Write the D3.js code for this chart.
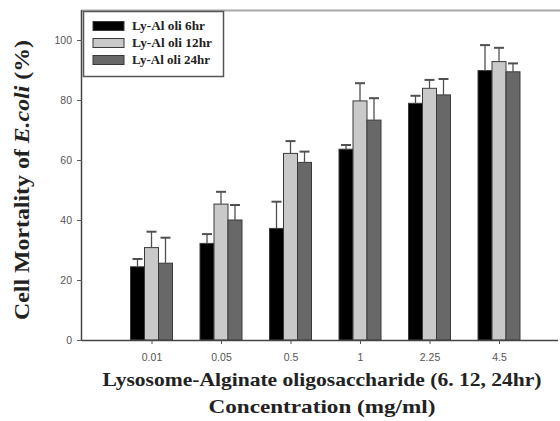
<!DOCTYPE html>
<html>
<head>
<meta charset="utf-8">
<script src="https://cdn.jsdelivr.net/npm/d3@7"></script>
<style>
  html, body { margin: 0; padding: 0; background: #fff; }
  svg { display: block; }
</style>
</head>
<body>
<svg id="chart" width="560" height="421"></svg>
<script>
// Concentrations (mg/ml) on the x axis
const categories = ["0.01", "0.05", "0.5", "1", "2.25", "4.5"];
// Series names shown in the legend
const seriesNames = ["Ly-Al oli 6hr", "Ly-Al oli 12hr", "Ly-Al oli 24hr"];
// Mean cell mortality (%) for each series
const mortality6hr  = [24.4, 32.2, 37.2, 63.6, 78.9, 89.8];
const mortality12hr = [30.8, 45.3, 62.2, 79.7, 83.9, 92.8];
const mortality24hr = [25.6, 40.0, 59.2, 73.3, 81.7, 89.4];
// Upper error (standard deviation) for each series
const err6hr  = [2.6, 3.1, 8.9, 1.4, 2.5, 8.5];
const err12hr = [5.3, 4.1, 4.1, 5.9, 2.8, 4.6];
const err24hr = [8.5, 5.0, 3.6, 7.3, 5.3, 2.8];
// Y axis tick values
const yTicks = [0, 20, 40, 60, 80, 100];

const seriesValues = [mortality6hr, mortality12hr, mortality24hr];
const seriesErrors = [err6hr, err12hr, err24hr];
const fills = ["#000000", "#c9c9c9", "#686868"];

const svg = d3.select("#chart");
const plotLeft = 82, plotBottom = 340, plotTop = 10, plotRight = 558;

// Linear position scale: category i sits at i + 1
const x = d3.scaleLinear().domain([0, 7]).range([plotLeft, plotLeft + 7 * 69.5]);
const y = d3.scaleLinear().domain([0, 110]).range([plotBottom, plotTop]);
const barW = 14;

// Top frame line
svg.append("line")
  .attr("x1", plotLeft).attr("x2", 560)
  .attr("y1", y(110) + 0.5).attr("y2", y(110) + 0.5)
  .attr("stroke", "#a8a8a8").attr("stroke-width", 2);

// Bars
seriesValues.forEach((vals, s) => {
  const g = svg.append("g");
  g.selectAll("rect").data(vals).join("rect")
    .attr("x", (d, i) => x(i + 1) - 1.5 * barW + s * barW)
    .attr("y", d => y(d))
    .attr("width", barW)
    .attr("height", d => y(0) - y(d))
    .attr("fill", fills[s])
    .attr("stroke", "#3a3a3a")
    .attr("stroke-width", 1);
});

// Upward error bars
seriesValues.forEach((vals, s) => {
  const errs = seriesErrors[s];
  const g = svg.append("g").attr("stroke", "#505050").attr("stroke-width", 1.3);
  vals.forEach((v, i) => {
    const cx = x(i + 1) - barW + s * barW;
    g.append("line").attr("x1", cx).attr("x2", cx)
      .attr("y1", y(v)).attr("y2", y(v + errs[i]));
    g.append("line").attr("x1", cx - 5).attr("x2", cx + 5)
      .attr("y1", y(v + errs[i])).attr("y2", y(v + errs[i]))
      .attr("stroke-width", 2);
  });
});

// Y axis
const yAxis = svg.append("g")
  .attr("transform", `translate(${plotLeft},0)`)
  .call(d3.axisLeft(y).tickValues(yTicks).tickSize(5).tickSizeOuter(0).tickPadding(5));
yAxis.select(".domain").attr("d", `M-0.5,${y(110)}V${plotBottom + 0.5}`).attr("stroke", "#444").attr("stroke-width", 1.5);
yAxis.selectAll(".tick line").attr("stroke", "#555");
yAxis.selectAll("text")
  .attr("font-family", "Liberation Sans, Arial, sans-serif")
  .attr("font-size", 10.5).attr("fill", "#555");

// X axis
const xAxis = svg.append("g")
  .attr("transform", `translate(0,${plotBottom})`)
  .call(d3.axisBottom(x).tickValues(d3.range(1, 7)).tickFormat(d => categories[d - 1])
    .tickSize(4).tickSizeOuter(0).tickPadding(10));
xAxis.select(".domain").attr("d", `M${plotLeft},0.5H${plotRight}`).attr("stroke", "#444").attr("stroke-width", 1.5);
xAxis.selectAll(".tick line").attr("stroke", "#555");
xAxis.selectAll("text")
  .attr("font-family", "Liberation Sans, Arial, sans-serif")
  .attr("font-size", 10.5).attr("fill", "#555");

// Axis titles (bold serif, stretched to the wide face used by the plot)
const serif = "Liberation Serif, Times New Roman, serif";
const yTitle = svg.append("text")
  .attr("transform", "translate(29,180) rotate(-90)")
  .attr("text-anchor", "middle")
  .attr("font-family", serif).attr("font-weight", "bold")
  .attr("font-size", 20).attr("fill", "#222")
  .attr("textLength", 280).attr("lengthAdjust", "spacingAndGlyphs");
yTitle.append("tspan").text("Cell Mortality of ");
yTitle.append("tspan").attr("font-style", "italic").text("E.coli");
yTitle.append("tspan").text(" (%)");

svg.append("text")
  .attr("x", 322).attr("y", 386)
  .attr("text-anchor", "middle")
  .attr("font-family", serif).attr("font-weight", "bold")
  .attr("font-size", 19).attr("fill", "#222")
  .attr("textLength", 439).attr("lengthAdjust", "spacingAndGlyphs")
  .text("Lysosome-Alginate oligosaccharide (6. 12, 24hr)");
svg.append("text")
  .attr("x", 322).attr("y", 413)
  .attr("text-anchor", "middle")
  .attr("font-family", serif).attr("font-weight", "bold")
  .attr("font-size", 19).attr("fill", "#222")
  .attr("textLength", 227).attr("lengthAdjust", "spacingAndGlyphs")
  .text("Concentration (mg/ml)");

// Legend
const legendWidths = [73, 80, 78];
const legend = svg.append("g");
legend.append("rect")
  .attr("x", 83.5).attr("y", 11.5).attr("width", 140).attr("height", 65)
  .attr("fill", "#fff").attr("stroke", "#555").attr("stroke-width", 1.5);
seriesNames.forEach((name, s) => {
  const cy = 26 + s * 17;
  legend.append("rect")
    .attr("x", 93).attr("y", cy - 4.5).attr("width", 31).attr("height", 9)
    .attr("fill", fills[s]).attr("stroke", "#3a3a3a").attr("stroke-width", 1);
  legend.append("text")
    .attr("x", 132).attr("y", cy + 4)
    .attr("font-family", serif).attr("font-weight", "bold")
    .attr("font-size", 12).attr("fill", "#222")
    .attr("textLength", legendWidths[s]).attr("lengthAdjust", "spacingAndGlyphs")
    .text(name);
});
</script>
</body>
</html>
